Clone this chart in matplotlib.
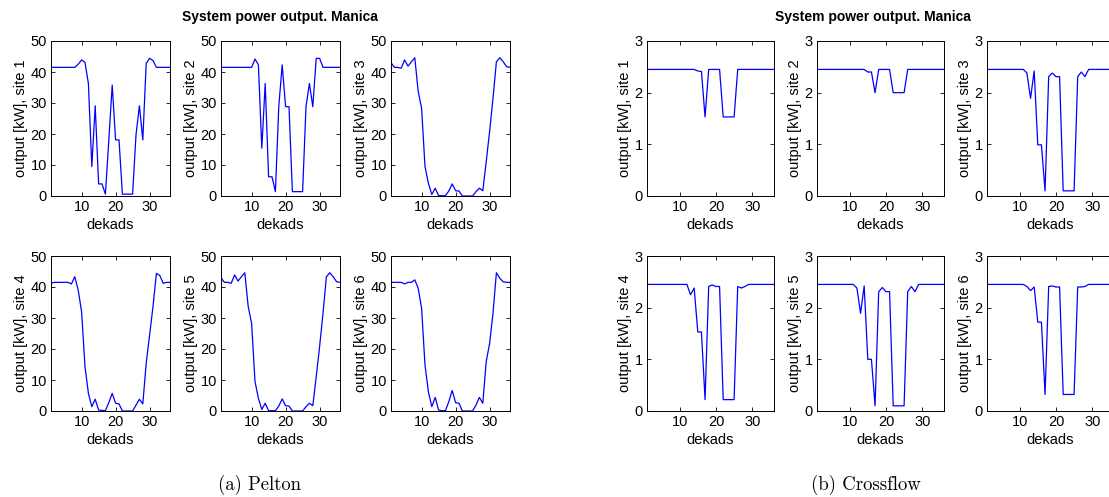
"""Pelton vs Crossflow system power output per site (Manica)."""

import matplotlib

matplotlib.use("Agg")
import matplotlib.pyplot as plt
import numpy as np

plt.rcParams["font.family"] = ["Liberation Sans", "DejaVu Sans"]

dekads = np.arange(1, 37)

# Pelton output [kW], sites 1-6
pelton_1 = [41.5, 41.5, 41.5, 41.5, 41.5, 41.5, 41.5, 41.5, 42.5, 43.9, 43.1, 36.3,
            9.5, 29.1, 3.9, 3.9, 0.6, 18.0, 35.8, 18.1, 18.1, 0.6, 0.6, 0.6,
            0.6, 19.7, 29.1, 18.1, 42.8, 44.4, 43.7, 41.5, 41.5, 41.5, 41.5, 41.5]
pelton_2 = [41.5, 41.5, 41.5, 41.5, 41.5, 41.5, 41.5, 41.5, 41.5, 41.5, 44.2, 42.3,
            15.4, 36.3, 6.2, 6.2, 1.4, 29.0, 42.3, 28.8, 28.8, 1.4, 1.4, 1.4,
            1.4, 28.8, 36.3, 28.8, 44.4, 44.4, 41.5, 41.5, 41.5, 41.5, 41.5, 41.5]
pelton_3 = [43.0, 41.5, 41.5, 41.2, 43.9, 41.9, 43.3, 44.6, 33.7, 28.3, 9.5, 4.1,
            0.5, 2.5, 0.1, 0.1, 0.1, 1.6, 3.9, 1.7, 1.6, 0.0, 0.0, 0.0,
            0.0, 1.4, 2.5, 1.7, 11.0, 20.8, 31.5, 43.3, 44.6, 43.3, 41.7, 41.5]
pelton_4 = [41.2, 41.5, 41.5, 41.5, 41.5, 41.5, 41.0, 43.3, 39.0, 32.0, 14.3, 5.7,
            1.4, 3.8, 0.3, 0.2, 0.1, 2.7, 5.7, 2.5, 2.3, 0.0, 0.0, 0.0,
            0.0, 1.9, 3.8, 2.3, 15.4, 24.5, 33.7, 44.4, 43.7, 41.2, 41.5, 41.5]
pelton_5 = [43.0, 41.5, 41.5, 41.2, 43.9, 41.9, 43.3, 44.6, 33.7, 28.3, 9.5, 4.1,
            0.5, 2.5, 0.1, 0.1, 0.1, 1.6, 3.9, 1.7, 1.6, 0.0, 0.0, 0.0,
            0.0, 1.4, 2.5, 1.7, 11.0, 20.8, 31.5, 43.3, 44.6, 43.3, 41.7, 41.5]
pelton_6 = [41.5, 41.5, 41.5, 41.5, 41.0, 41.5, 41.5, 42.3, 39.6, 33.1, 14.8, 6.2,
            1.4, 4.4, 0.3, 0.1, 0.1, 3.0, 6.6, 2.7, 2.5, 0.0, 0.0, 0.0,
            0.0, 1.9, 4.4, 2.5, 15.9, 21.8, 31.5, 44.6, 42.8, 41.7, 41.5, 41.5]

# Crossflow output [kW], sites 1-6
cross_1 = [2.45] * 13 + [2.45, 2.42, 2.41, 1.53, 2.45, 2.45, 2.45, 2.45, 1.53,
                         1.53, 1.53, 1.53, 2.45] + [2.45] * 10
cross_2 = [2.45] * 13 + [2.45, 2.40, 2.40, 2.00, 2.45, 2.45, 2.45, 2.45, 2.00,
                         2.00, 2.00, 2.00, 2.45] + [2.45] * 10
cross_3 = [2.45] * 11 + [2.38, 1.89, 2.42, 0.99, 0.99, 0.10, 2.31, 2.38, 2.31,
                         2.31, 0.10, 0.10, 0.10, 0.10, 2.31, 2.40, 2.31] + [2.45] * 8
cross_4 = [2.45] * 12 + [2.25, 2.38, 1.53, 1.53, 0.22, 2.41, 2.44, 2.41, 2.41,
                         0.22, 0.22, 0.22, 0.22, 2.41, 2.38, 2.41] + [2.45] * 8
cross_5 = [2.45] * 11 + [2.38, 1.89, 2.42, 1.00, 1.00, 0.10, 2.31, 2.39, 2.31,
                         2.31, 0.10, 0.10, 0.10, 0.10, 2.31, 2.41, 2.31] + [2.45] * 8
cross_6 = [2.45] * 11 + [2.41, 2.33, 2.40, 1.72, 1.72, 0.32, 2.41, 2.42, 2.40,
                         2.40, 0.32, 0.32, 0.32, 0.32, 2.40, 2.40, 2.41] + [2.45] * 8

pelton = [pelton_1, pelton_2, pelton_3, pelton_4, pelton_5, pelton_6]
crossflow = [cross_1, cross_2, cross_3, cross_4, cross_5, cross_6]

W, H = 1109, 497
fig = plt.figure(figsize=(W / 100, H / 100), dpi=100)

row_px = [(41, 196), (256, 411)]
pelton_cols = [(51, 170), (221, 340), (391, 510)]
cross_cols = [(647, 774), (817, 944), (987, 1114)]


def px_rect(x0, x1, y0, y1):
    return [x0 / W, 1 - y1 / H, (x1 - x0) / W, (y1 - y0) / H]


def draw_group(cols, series, ymax, yticks):
    for i, data in enumerate(series):
        r, c = divmod(i, 3)
        x0, x1 = cols[c]
        y0, y1 = row_px[r]
        ax = fig.add_axes(px_rect(x0, x1, y0, y1))
        ax.plot(dekads, data, color="#0000ff", linewidth=0.9)
        ax.set_xlim(1, 36)
        ax.set_ylim(0, ymax)
        ax.set_xticks([10, 20, 30])
        ax.set_yticks(yticks)
        ax.tick_params(direction="in", top=True, right=True, length=3,
                       width=0.6, labelsize=10.5, pad=3)
        for s in ax.spines.values():
            s.set_linewidth(0.7)
        ax.set_xlabel("dekads", fontsize=10.5, labelpad=3)
        ax.set_ylabel(f"output [kW], site {i + 1}", fontsize=10.5, labelpad=2)


draw_group(pelton_cols, pelton, 50, [0, 10, 20, 30, 40, 50])
draw_group(cross_cols, crossflow, 3, [0, 1, 2, 3])

fig.text(280 / W, 1 - 17 / H, "System power output. Manica", ha="center",
         va="center", fontsize=10, fontweight="bold")
fig.text(873 / W, 1 - 17 / H, "System power output. Manica", ha="center",
         va="center", fontsize=10, fontweight="bold")

fig.text(260 / W, 1 - 485 / H, "(a) Pelton", ha="center", va="center",
         fontsize=13.5, family=["cmr10", "DejaVu Serif"])
fig.text(866 / W, 1 - 485 / H, "(b) Crossflow", ha="center", va="center",
         fontsize=13.5, family=["cmr10", "DejaVu Serif"])

fig.savefig("out.png", dpi=100)
